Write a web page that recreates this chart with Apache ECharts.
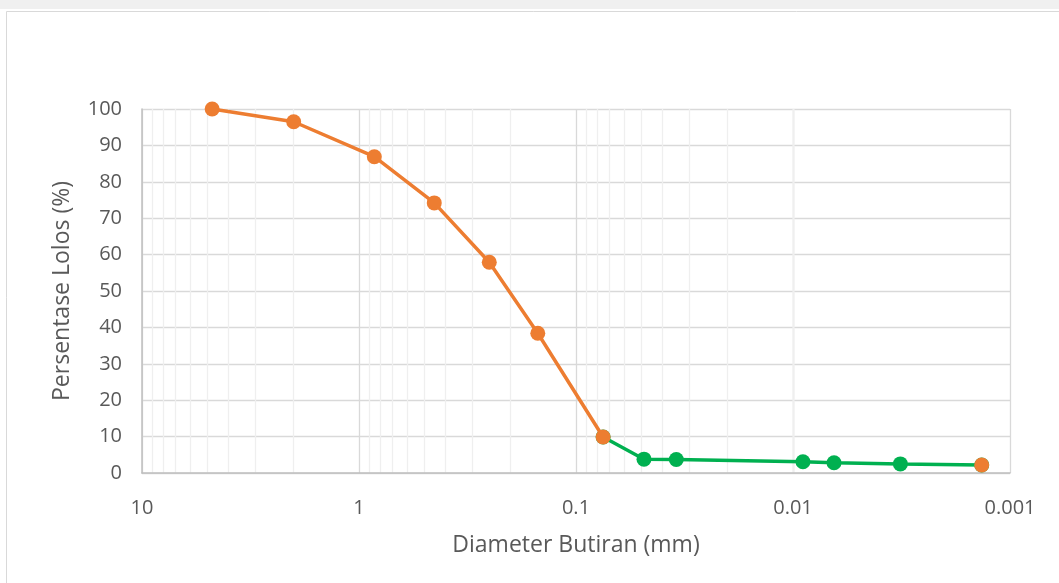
<!DOCTYPE html>
<html>
<head>
<meta charset="utf-8">
<script src="https://cdn.jsdelivr.net/npm/echarts@6/dist/echarts.min.js"></script>
<style>
html,body{margin:0;padding:0;background:#fff;}
#c{width:1059px;height:583px;}
</style>
</head>
<body>
<div id="c"></div>
<script>
// Sieve analysis (orange)
const sieveDiameter = [4.75, 2.0, 0.85, 0.45, 0.251, 0.15, 0.075];
const sievePassing  = [100, 96.5, 86.9, 74.2, 57.9, 38.4, 9.9];
// Hydrometer analysis (green)
const hydroDiameter = [0.075, 0.0486, 0.0345, 0.0090, 0.00647, 0.0032, 0.00135];
const hydroPassing  = [9.9, 3.8, 3.7, 3.1, 2.8, 2.5, 2.2];
// Axis ticks
const xTicks = [10, 1, 0.1, 0.01, 0.001];
const yTicks = [0, 10, 20, 30, 40, 50, 60, 70, 80, 90, 100];

const ORANGE = '#ED7D31', GREEN = '#00B050';
const FONT = 'Open Sans';

// minor log gridline positions (2..9 in each decade)
const minorLines = [];
for (let e = -3; e < 1; e++) {
  for (let k = 2; k <= 9; k++) minorLines.push(+(k * Math.pow(10, e)).toPrecision(3));
}

const sieveData = sieveDiameter.map((d, i) => [d, sievePassing[i]]);
const hydroData = hydroDiameter.map((d, i) => [d, hydroPassing[i]]);
const lastIdx = hydroDiameter.length - 1;

const chart = echarts.init(document.getElementById('c'), null, {renderer: 'canvas'});
chart.setOption({
  animation: false,
  backgroundColor: '#ffffff',
  graphic: [
    {type: 'rect', left: 0, top: 0, shape: {width: 1059, height: 9}, style: {fill: '#f0f0f0'}, z: -10},
    {type: 'rect', left: 4, top: 9, shape: {width: 1100, height: 600}, style: {fill: 'none', stroke: '#d9d9d9', lineWidth: 1}, z: -10}
  ],
  grid: {left: 142, right: 49, top: 109, bottom: 110, containLabel: false},
  xAxis: {
    type: 'log', logBase: 10, min: 0.001, max: 10, inverse: true,
    name: 'Diameter Butiran (mm)', nameLocation: 'middle', nameGap: 61,
    nameTextStyle: {fontFamily: FONT, fontSize: 23, color: '#595959'},
    axisLine: {show: true, lineStyle: {color: '#bfbfbf', width: 1.5}},
    axisTick: {show: false},
    axisLabel: {
      fontFamily: FONT, fontSize: 20, color: '#595959', margin: 25,
      formatter: v => { const t = xTicks.find(x => Math.abs(Math.log10(x) - Math.log10(v)) < 1e-6); return t === undefined ? '' : String(t); }
    },
    splitLine: {show: true, lineStyle: {color: '#d9d9d9', width: 1.3}},
    minorSplitLine: {show: false}
  },
  yAxis: {
    type: 'value', min: 0, max: 100, interval: 10,
    name: 'Persentase Lolos (%)', nameLocation: 'middle', nameGap: 68, nameRotate: 90,
    nameTextStyle: {fontFamily: FONT, fontSize: 23, color: '#595959'},
    axisLine: {show: true, lineStyle: {color: '#bfbfbf', width: 1.5}},
    axisTick: {show: false},
    axisLabel: {fontFamily: FONT, fontSize: 20, color: '#595959', margin: 20,
      formatter: v => yTicks.includes(v) ? String(v) : ''},
    splitLine: {show: true, lineStyle: {color: '#d9d9d9', width: 1.3}}
  },
  series: [
    {
      type: 'line', data: [], z: 0, zlevel: 0, silent: true,
      markLine: {
        z: 0, silent: true, symbol: 'none', label: {show: false}, animation: false,
        lineStyle: {color: '#efefef', type: 'solid', width: 1.3},
        emphasis: {disabled: true},
        data: minorLines.map(v => ({xAxis: v}))
      }
    },
    {
      name: 'Hidrometer', type: 'line', data: hydroData, z: 3,
      symbol: 'circle', symbolSize: 15,
      lineStyle: {color: GREEN, width: 3.5},
      itemStyle: {color: GREEN, borderWidth: 0, opacity: 1}
    },
    {
      name: 'Saringan', type: 'line', data: sieveData, z: 4,
      symbol: 'circle', symbolSize: 15,
      lineStyle: {color: ORANGE, width: 3.5},
      itemStyle: {color: ORANGE, borderWidth: 0, opacity: 1}
    },
    {
      name: 'Akhir', type: 'scatter', data: [hydroData[lastIdx]], z: 5,
      symbol: 'circle', symbolSize: 15,
      itemStyle: {color: ORANGE, opacity: 1}
    }
  ]
});
</script>
</body>
</html>
